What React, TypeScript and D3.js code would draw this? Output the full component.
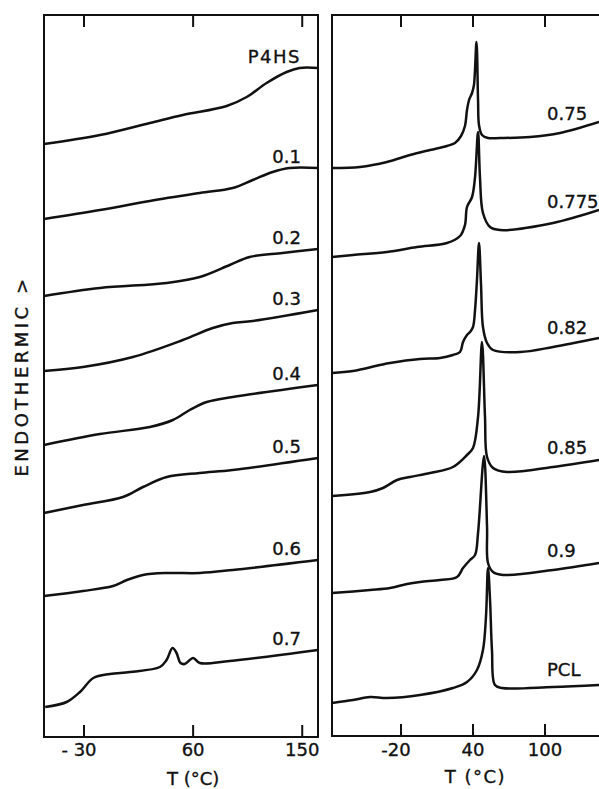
import * as d3 from 'd3'

// DSC traces, [T (°C), signal (a.u., incl. vertical offset)]
const p4hs: [number, number][] = [[-63, 59.3], [-16.8, 60.2], [24.3, 61.4], [51.5, 62.2], [87.7, 63.1], [104.2, 64.0], [120.6, 65.4], [137.1, 66.5], [147.8, 66.9], [163, 66.9]]
const w01: [number, number][] = [[-63, 51.8], [-16.8, 52.7], [24.3, 53.6], [65.5, 54.4], [92.6, 54.9], [109.1, 55.7], [125.6, 56.5], [139.5, 56.9], [163, 56.9]]
const w02: [number, number][] = [[-63, 44.1], [-16.8, 44.9], [38.3, 45.4], [65.5, 46.0], [90.2, 47.2], [106.6, 48.0], [133.8, 48.4], [163, 48.8]]
const w03: [number, number][] = [[-63, 36.6], [-30.8, 37.0], [10.3, 38.0], [51.5, 39.7], [76.2, 40.9], [92.6, 41.4], [109.1, 41.6], [163, 42.7]]
const w04: [number, number][] = [[-63, 29.2], [-16.8, 30.3], [24.3, 31.0], [43.3, 31.7], [57.2, 32.7], [71.2, 33.5], [92.6, 34.0], [163, 35.2]]
const w05: [number, number][] = [[-63, 22.4], [-30.8, 23.2], [2.1, 24.0], [18.6, 25.0], [38.3, 26.0], [65.5, 26.4], [92.6, 26.7], [163, 27.9]]
const w06: [number, number][] = [[-63, 14.1], [-30.8, 14.6], [-6.1, 15.1], [5.4, 15.7], [18.6, 16.2], [38.3, 16.4], [65.5, 16.4], [92.6, 16.7], [163, 17.7]]
const w07: [number, number][] = [[-62, 3.0], [-44.3, 3.5], [-33.3, 4.5], [-22.3, 5.9], [-8.6, 6.3], [7.9, 6.5], [32.6, 7.0], [38.1, 7.7], [43, 8.9], [46.3, 8.4], [49.6, 7.4], [53.1, 7.3], [60, 7.9], [65.5, 7.4], [90.2, 7.6], [163, 8.7]]

const w075: [number, number][] = [[-77.5, 56.9], [-54.2, 57.0], [-31.7, 57.5], [-12.5, 58.2], [4.2, 58.7], [18.3, 59.1], [25, 59.4], [30, 60.1], [33.3, 61.1], [35, 62.7], [36.7, 63.7], [39.2, 64.4], [40.8, 65.2], [42.9, 69.5], [44.2, 63.7], [45, 61.2], [47.5, 60.2], [52.5, 59.9], [62.5, 59.9], [87.5, 60.0], [112.5, 60.4], [145, 61.5]]
const w0775: [number, number][] = [[-77.5, 48.0], [-60, 48.2], [-31.7, 48.5], [-6.7, 49.0], [18.3, 49.4], [29.2, 50.1], [33.3, 51.2], [35, 53.0], [39.2, 54.0], [41.7, 56.0], [44.2, 60.5], [45.8, 56.0], [48.3, 52.4], [54.2, 51.0], [62.5, 50.7], [106.7, 51.4], [145, 52.7]]
const w082: [number, number][] = [[-77.5, 36.4], [-60, 36.6], [-37.5, 37.2], [-29.2, 37.4], [-4.2, 37.8], [12.5, 37.9], [23.3, 38.2], [29.2, 38.5], [31.7, 39.5], [35, 40.2], [37.5, 40.5], [40, 41.0], [41.7, 42.7], [43.3, 45.7], [45, 49.4], [46.7, 45.2], [48.3, 41.0], [51.7, 39.4], [56.7, 38.7], [79.2, 38.5], [106.7, 39.0], [145, 39.9]]
const w085: [number, number][] = [[-77.5, 24.1], [-45.8, 24.5], [-35, 24.9], [-23.3, 25.7], [-12.5, 26.0], [4.2, 26.4], [23.3, 27.0], [35, 28.2], [40, 28.9], [44.2, 32.0], [47.5, 39.5], [50, 32.0], [51.7, 28.0], [56.7, 26.9], [68.3, 26.5], [106.7, 27.0], [145, 27.7]]
const w09: [number, number][] = [[-77.5, 14.4], [-45.8, 14.7], [-29.2, 14.9], [-15, 15.3], [-4.2, 15.5], [12.5, 15.7], [26.7, 16.0], [31.7, 16.9], [37.5, 17.7], [41.7, 18.2], [44.2, 20.4], [49.2, 28.1], [51.7, 21.0], [52.5, 17.4], [56.7, 16.5], [65, 16.2], [106.7, 16.7], [145, 17.4]]
const pcl: [number, number][] = [[-77.5, 3.4], [-60, 3.7], [-45.8, 4.0], [-31.7, 3.9], [-4.2, 4.2], [23.3, 4.9], [35, 5.5], [43.3, 6.7], [48.3, 8.7], [50.8, 12.0], [52.5, 16.9], [54.2, 13.7], [55.8, 8.7], [58.3, 5.2], [64.2, 4.9], [106.7, 5.0], [145, 5.2]]

const leftCurves = [p4hs, w01, w02, w03, w04, w05, w06, w07]
const leftLabels = ['P4HS', '0.1', '0.2', '0.3', '0.4', '0.5', '0.6', '0.7']
const rightCurves = [w075, w0775, w082, w085, w09, pcl]
const rightLabels = ['0.75', '0.775', '0.82', '0.85', '0.9', 'PCL']

const leftTicks = [-30, 60, 150]
const rightTicks = [-20, 40, 100]

const FONT = "'DejaVu Sans', sans-serif"
const INK = '#111'

function valueAt(data: [number, number][], t: number) {
  const i = d3.bisector((d: [number, number]) => d[0]).left(data, t)
  if (i <= 0) return data[0][1]
  if (i >= data.length) return data[data.length - 1][1]
  const [t0, v0] = data[i - 1]
  const [t1, v1] = data[i]
  return v0 + ((t - t0) / (t1 - t0)) * (v1 - v0)
}

export default function App() {
  const W = 599
  const H = 789
  const top = 15
  const bottom = 737

  const xL = d3.scaleLinear().domain([-63, 163]).range([44, 318])
  const xR = d3.scaleLinear().domain([-77.5, 145]).range([332, 599])
  const y = d3.scaleLinear().domain([0, 72.2]).range([bottom, top])

  const lineL = d3.line<[number, number]>().x((d) => xL(d[0])).y((d) => y(d[1])).curve(d3.curveCatmullRom.alpha(0.5))
  const lineR = d3.line<[number, number]>().x((d) => xR(d[0])).y((d) => y(d[1])).curve(d3.curveCatmullRom.alpha(0.5))

  const tickLen = 12
  const rBottom = bottom - 1
  const txt = { fontSize: 18, fill: INK, stroke: INK, strokeWidth: 0.35 }

  return (
    <svg width={W} height={H} style={{ position: 'absolute', left: 0, top: 0, background: '#fff' }} fontFamily={FONT}>
      <rect width={W} height={H} fill="#fff" />

      {/* left panel frame */}
      <rect x={44} y={top} width={274} height={bottom - top} fill="none" stroke={INK} strokeWidth={2} />
      {leftTicks.map((t) => (
        <g key={'lt' + t} stroke={INK} strokeWidth={2}>
          <line x1={xL(t)} x2={xL(t)} y1={top} y2={top + tickLen} />
          <line x1={xL(t)} x2={xL(t)} y1={bottom} y2={bottom - tickLen} />
        </g>
      ))}
      {leftTicks.map((t) => (
        <text key={'ll' + t} x={xL(t)} dx={t < 0 ? -5 : 0} y={756} textAnchor="middle" {...txt}>
          {t < 0 ? '- ' + Math.abs(t) : t}
        </text>
      ))}
      <text x={xL(60)} y={785} textAnchor="middle" {...txt}>T (°C)</text>

      {leftCurves.map((c, i) => (
        <path key={'lc' + i} d={lineL(c) ?? ''} fill="none" stroke={INK} strokeWidth={2.5} strokeLinejoin="round" />
      ))}
      {leftLabels.map((l, i) => {
        const c = leftCurves[i]
        return (
          <text key={'lb' + i} x={301} y={y(c[c.length - 1][1]) - 5} textAnchor="end" {...txt} letterSpacing={l === 'P4HS' ? 1.5 : 0}>
            {l}
          </text>
        )
      })}

      {/* right panel frame (runs off the right edge) */}
      <path d={`M${W + 10},${top}H332V${rBottom}H${W + 10}`} fill="none" stroke={INK} strokeWidth={2} />
      {rightTicks.map((t) => (
        <g key={'rt' + t} stroke={INK} strokeWidth={2}>
          <line x1={xR(t)} x2={xR(t)} y1={top} y2={top + tickLen} />
          <line x1={xR(t)} x2={xR(t)} y1={rBottom} y2={rBottom - tickLen} />
        </g>
      ))}
      {rightTicks.map((t) => (
        <text key={'rl' + t} x={xR(t)} dx={t < 0 ? -5 : 0} y={756} textAnchor="middle" {...txt}>
          {t < 0 ? '-' + Math.abs(t) : t}
        </text>
      ))}
      <text x={xR(42)} y={783} textAnchor="middle" {...txt} letterSpacing={1.5}>T (°C)</text>

      {rightCurves.map((c, i) => (
        <path key={'rc' + i} d={lineR(c) ?? ''} fill="none" stroke={INK} strokeWidth={2.5} strokeLinejoin="round" />
      ))}
      {rightLabels.map((l, i) => (
        <text key={'rb' + i} x={547} y={y(valueAt(rightCurves[i], 120.8)) - 10} {...txt}>
          {l}
        </text>
      ))}

      <text transform="translate(28,376) rotate(-90)" textAnchor="middle" {...txt} letterSpacing={3.5}>
        ENDOTHERMIC &gt;
      </text>
    </svg>
  )
}
